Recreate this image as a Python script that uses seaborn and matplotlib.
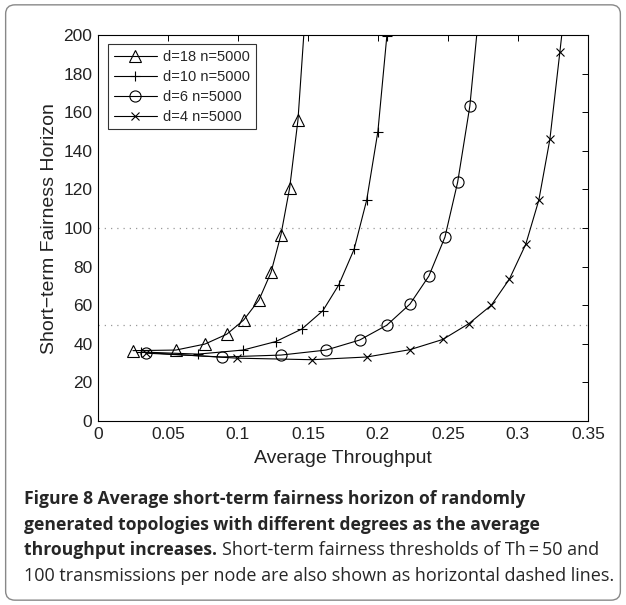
import numpy as np
import pandas as pd
import seaborn as sns
import matplotlib.pyplot as plt
from matplotlib.patches import FancyBboxPatch

sns.set_style("white")
plt.rcParams['font.family'] = ['Liberation Sans', 'DejaVu Sans']

# values (last point of each series lies above the axis top)
x_d18 = [0.025, 0.0557, 0.0764, 0.092, 0.104, 0.115, 0.1236, 0.1307, 0.137, 0.1429, 0.148]
y_d18 = [36.5, 36.8, 39.9, 45, 52.3, 62.7, 77, 96.4, 121, 156, 210]

x_d10 = [0.031, 0.0714, 0.1036, 0.127, 0.1457, 0.1607, 0.172, 0.183, 0.192, 0.200, 0.2064, 0.211]
y_d10 = [35.8, 34.7, 36.8, 41.2, 47.7, 57.2, 70.5, 89, 114.5, 150, 199.5, 265]

x_d6 = [0.0343, 0.0886, 0.1307, 0.163, 0.187, 0.2064, 0.2229, 0.2364, 0.2479, 0.257, 0.2657, 0.2725]
y_d6 = [35.2, 33.2, 34.2, 36.8, 42, 49.7, 60.6, 75.1, 95.3, 123.8, 163.2, 214]

x_d4 = [0.034, 0.0993, 0.153, 0.192, 0.2229, 0.2464, 0.265, 0.281, 0.294, 0.3057, 0.315, 0.3229, 0.33, 0.334]
y_d4 = [35.5, 32.6, 31.8, 33.2, 37, 42.3, 50.5, 60, 73.6, 91.7, 114.5, 146, 191, 217]

labels = ["d=18 n=5000", "d=10 n=5000", "d=6 n=5000", "d=4 n=5000"]
markers = ["^", "+", "o", "x"]
msizes = [8, 7.5, 8, 6]
thresholds = [50, 100]

fig = plt.figure(figsize=(6.26, 6.05), dpi=100)
ax = fig.add_axes([0.1565, 0.304, 0.7825, 0.638])

series = [(x_d18, y_d18), (x_d10, y_d10), (x_d6, y_d6), (x_d4, y_d4)]
for (xs, ys), lab, m, s in zip(series, labels, markers, msizes):
    df = pd.DataFrame({"x": xs, "y": ys})
    sns.lineplot(data=df, x="x", y="y", sort=False, ax=ax, color="black",
                 lw=0.8, marker=m, ms=s, mfc="none", mec="black", mew=0.8,
                 label=lab)

for th in thresholds:
    ax.axhline(th, color="#999999", ls=(0, (1, 4)), lw=0.9, zorder=0)

ax.set_xlim(0, 0.35)
ax.set_ylim(0, 200)
ax.set_xticks(np.arange(0, 0.351, 0.05))
ax.set_xticklabels(["0", "0.05", "0.1", "0.15", "0.2", "0.25", "0.3", "0.35"])
ax.set_yticks(np.arange(0, 201, 20))
ax.tick_params(direction="in", length=4, width=0.7, top=True, right=True,
               labelsize=12.5, colors="black", labelcolor="#222222", pad=4)
for s in ax.spines.values():
    s.set_color("black")
    s.set_linewidth(0.8)
ax.set_xlabel("Average Throughput", fontsize=14, color="#222222", labelpad=6)
ax.set_ylabel("Short\u2212term Fairness Horizon", fontsize=14, color="#222222", labelpad=4)

leg = ax.legend(loc="upper left", fontsize=10.5, handlelength=3.0, frameon=True,
                fancybox=False, borderpad=0.4, labelspacing=0.4, handletextpad=0.4,
                bbox_to_anchor=(0.005, 0.995))
leg.get_frame().set_edgecolor("black")
leg.get_frame().set_linewidth(0.8)

# rounded frame around the figure
frame = FancyBboxPatch((0.009, 0.008), 0.982, 0.984, boxstyle="round,pad=0,rounding_size=0.015",
                       transform=fig.transFigure, fill=False, ec="#888888", lw=1.0)
fig.patches.append(frame)

cap_font = ['Open Sans', 'DejaVu Sans']
bold_size = 12.6
reg_size = 13.0
x0 = 24 / 626
fig.text(x0, 1 - 499 / 605, "Figure 8 Average short-term fairness horizon of randomly",
         fontsize=bold_size, fontweight="bold", family=cap_font, va="center")
fig.text(x0, 1 - 525 / 605, "generated topologies with different degrees as the average",
         fontsize=bold_size, fontweight="bold", family=cap_font, va="center")
t3 = fig.text(x0, 1 - 550 / 605, "throughput increases.", fontsize=bold_size,
              fontweight="bold", family=cap_font, va="center")
fig.canvas.draw()
bb = t3.get_window_extent()
fig.text(bb.x1 / fig.bbox.width + 5 / 626, 1 - 550 / 605,
         "Short-term fairness thresholds of Th\u2009=\u200950 and",
         fontsize=reg_size, family=cap_font, va="center")
fig.text(x0, 1 - 576 / 605, "100 transmissions per node are also shown as horizontal dashed lines.",
         fontsize=reg_size, family=cap_font, va="center")

fig.savefig("out.png", dpi=100)
